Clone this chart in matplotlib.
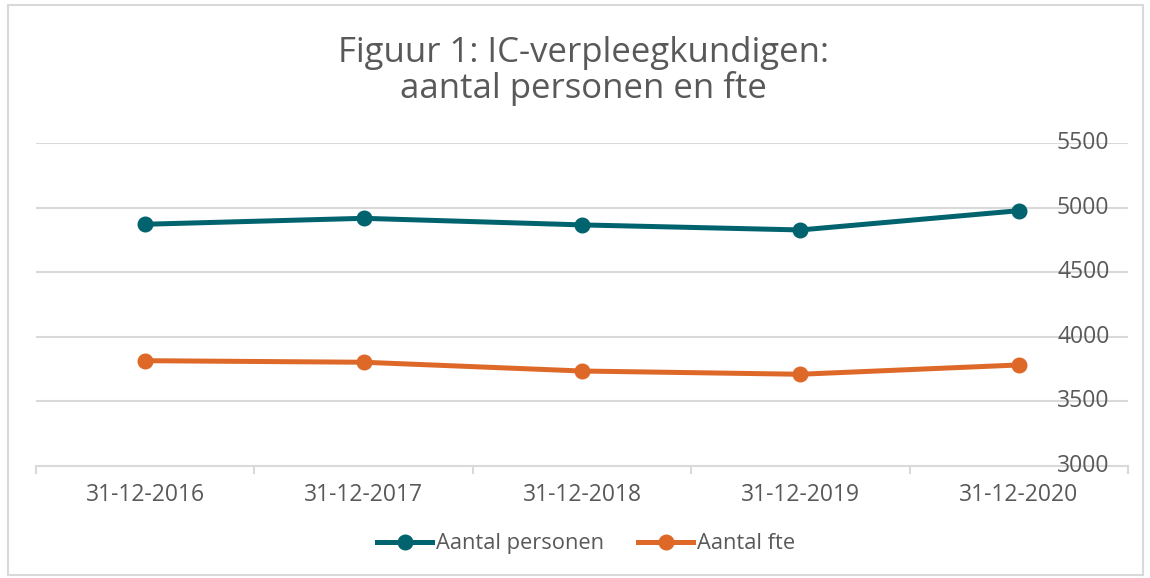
import matplotlib.pyplot as plt
from matplotlib.lines import Line2D
from matplotlib.patches import Rectangle

plt.rcParams['font.family'] = ['Open Sans', 'DejaVu Sans']

# data
dates = ['31-12-2016', '31-12-2017', '31-12-2018', '31-12-2019', '31-12-2020']
personen = [4871, 4917, 4866, 4827, 4976]
fte = [3815, 3803, 3735, 3710, 3782]
y_ticks = [3000, 3500, 4000, 4500, 5000, 5500]

teal = '#00636e'
orange = '#dd6828'
grey_text = '#595959'
grid_col = '#d9d9d9'

fig = plt.figure(figsize=(11.5, 5.78), dpi=100)
ax = fig.add_axes([0.0313, 0.1938, 0.9496, 0.5588])

x = list(range(len(dates)))
ax.plot(x, personen, color=teal, lw=3.6, marker='o', markersize=10.5,
        solid_capstyle='round', label='Aantal personen', zorder=3)
ax.plot(x, fte, color=orange, lw=3.6, marker='o', markersize=10.5,
        solid_capstyle='round', label='Aantal fte', zorder=3)

ax.set_xlim(-0.5, len(dates) - 0.5)
ax.set_ylim(y_ticks[0], y_ticks[-1])

# horizontal gridlines
for t in y_ticks[1:]:
    ax.axhline(t, color=grid_col, lw=1.5, zorder=1)

for s in ['top', 'right', 'left']:
    ax.spines[s].set_visible(False)
ax.spines['bottom'].set_color(grid_col)
ax.spines['bottom'].set_linewidth(1.5)

# category labels and boundary ticks
ax.set_xticks(x)
ax.set_xticklabels(dates, fontsize=16.5, color=grey_text)
ax.tick_params(axis='x', length=0, pad=12)
for b in range(len(dates) + 1):
    ax.plot([b - 0.5, b - 0.5], [0, -0.022], transform=ax.get_xaxis_transform(),
            color=grid_col, lw=1.5, clip_on=False)

# y labels drawn on the right inside the plot, like the original
ax.set_yticks([])
ytrans = ax.get_yaxis_transform()
for t in y_ticks:
    ax.text(0.983, t, str(t), transform=ytrans, ha='right', va='center',
            fontsize=16.5, color=grey_text)

fig.text(0.507, 0.877, 'Figuur 1: IC-verpleegkundigen:\naantal personen en fte',
         ha='center', va='center', fontsize=25, color=grey_text, linespacing=1.05)

handles = [Line2D([], [], color=teal, lw=3.6, marker='o', markersize=10.5),
           Line2D([], [], color=orange, lw=3.6, marker='o', markersize=10.5)]
fig.legend(handles, ['Aantal personen', 'Aantal fte'], loc='center',
           bbox_to_anchor=(0.51, 0.059), ncol=2, frameon=False, fontsize=15.75,
           labelcolor=grey_text, handlelength=2.5, handletextpad=0.2,
           columnspacing=1.55)

# light chart border
fig.patches.append(Rectangle((0.007, 0.005), 0.987, 0.987, transform=fig.transFigure,
                             fill=False, edgecolor=grid_col, lw=1.5))

fig.savefig('out.png', dpi=100)
